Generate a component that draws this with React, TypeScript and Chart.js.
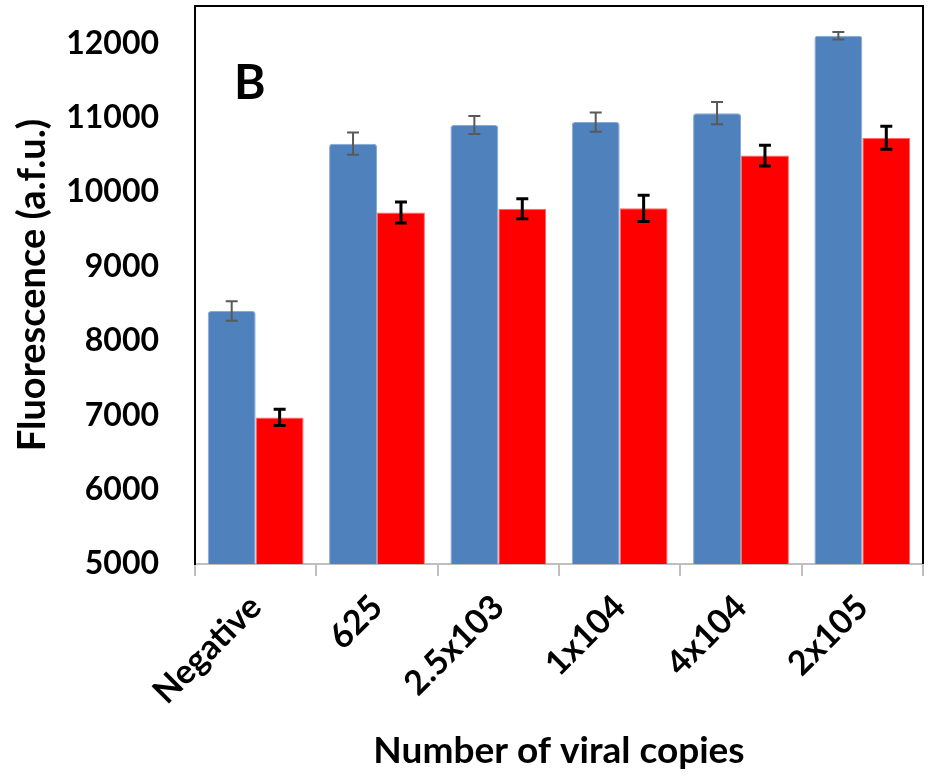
import React, { useEffect, useRef } from "react";
import { Chart, registerables } from "chart.js";

Chart.register(...registerables);

const categories = ["Negative", "625", "2.5x103", "1x104", "4x104", "2x105"];
const blueValues = [8400, 10650, 10900, 10940, 11060, 12100];
const blueErrors = [130, 150, 120, 130, 150, 50];
const redValues = [6970, 9725, 9775, 9780, 10490, 10730];
const redErrors = [110, 140, 135, 175, 140, 155];
const yTickValues = [5000, 6000, 7000, 8000, 9000, 10000, 11000, 12000];
const panelLabel = "B";
const yTitle = "Fluorescence (a.f.u.)";
const xTitle = "Number of viral copies";

const FONT = "Lato, 'Open Sans', sans-serif";

const errorBarPlugin = {
  id: "errorBars",
  afterDatasetsDraw(chart: any) {
    const ctx = chart.ctx;
    const yScale = chart.scales.y;
    chart.data.datasets.forEach((ds: any, i: number) => {
      const meta = chart.getDatasetMeta(i);
      const errs: number[] = ds.errors;
      ctx.save();
      ctx.strokeStyle = ds.errorColor;
      ctx.lineWidth = ds.errorWidth;
      meta.data.forEach((el: any, j: number) => {
        const v = ds.data[j];
        const e = errs[j];
        const x = el.x;
        const yt = yScale.getPixelForValue(v + e);
        const yb = yScale.getPixelForValue(v - e);
        const cap = 6;
        ctx.beginPath();
        ctx.moveTo(x, yt);
        ctx.lineTo(x, yb);
        ctx.moveTo(x - cap, yt);
        ctx.lineTo(x + cap, yt);
        ctx.moveTo(x - cap, yb);
        ctx.lineTo(x + cap, yb);
        ctx.stroke();
      });
      ctx.restore();
    });
  },
};

const framePlugin = {
  id: "frame",
  afterDraw(chart: any) {
    const { ctx, chartArea } = chart;
    ctx.save();
    ctx.strokeStyle = "#000";
    ctx.lineWidth = 2;
    ctx.beginPath();
    ctx.moveTo(chartArea.left, chartArea.top);
    ctx.lineTo(chartArea.right, chartArea.top);
    ctx.lineTo(chartArea.right, chartArea.bottom);
    ctx.stroke();
    ctx.fillStyle = "#000";
    ctx.font = `bold 48px ${FONT}`;
    ctx.textAlign = "left";
    ctx.textBaseline = "alphabetic";
    ctx.fillText(panelLabel, chartArea.left + 39, chartArea.top + 93);
    ctx.restore();
  },
};

export default function App() {
  const ref = useRef<HTMLCanvasElement>(null);
  useEffect(() => {
    if (!ref.current) return;
    const chart = new Chart(ref.current, {
      type: "bar",
      data: {
        labels: categories,
        datasets: [
          {
            label: "blue",
            data: blueValues,
            errors: blueErrors,
            errorColor: "#595959",
            errorWidth: 2,
            backgroundColor: "#4F81BD",
            borderColor: "#86A9D6",
            borderWidth: 1,
            borderRadius: 3,
            barPercentage: 1,
            categoryPercentage: 0.79,
          } as any,
          {
            label: "red",
            data: redValues,
            errors: redErrors,
            errorColor: "#000000",
            errorWidth: 3,
            backgroundColor: "#FF0000",
            borderColor: "#FF6B6B",
            borderWidth: 1,
            barPercentage: 1,
            categoryPercentage: 0.79,
          } as any,
        ],
      },
      options: {
        animation: false,
        responsive: true,
        maintainAspectRatio: false,
        layout: { padding: { top: 6, right: 7, left: 0, bottom: 0 } },
        plugins: {
          legend: { display: false },
          tooltip: { enabled: false },
        },
        scales: {
          x: {
            grid: {
              display: true,
              drawOnChartArea: false,
              drawTicks: true,
              tickLength: 12,
              color: "#BFBFBF",
              lineWidth: 2,
              offset: true,
            },
            border: { display: true, color: "#BFBFBF", width: 2 },
            ticks: {
              autoSkip: false,
              minRotation: 45,
              maxRotation: 45,
              padding: 11,
              color: "#000",
              font: { family: FONT, size: 34, weight: "bold" },
            },
            title: {
              display: true,
              text: xTitle,
              color: "#000",
              padding: { top: 4, bottom: 4 },
              font: { family: FONT, size: 37, weight: "bold" },
            },
            afterFit(scale: any) {
              scale.height = 213;
              scale.paddingLeft = 0;
              scale.paddingRight = 0;
              scale.paddingTop = 0;
              scale.paddingBottom = 0;
            },
          },
          y: {
            min: 5000,
            max: 12500,
            grid: { display: true, drawOnChartArea: false, drawTicks: false },
            border: { display: true, color: "#000", width: 2 },
            afterBuildTicks(scale: any) {
              scale.ticks = yTickValues.map((v) => ({ value: v }));
            },
            ticks: {
              padding: 36,
              color: "#000",
              font: { family: FONT, size: 32, weight: "bold" },
              callback: (v: any) => String(v),
            },
            title: {
              display: true,
              text: yTitle,
              color: "#000",
              padding: { top: 10, bottom: 4 },
              font: { family: FONT, size: 38, weight: "bold" },
            },
            afterFit(scale: any) {
              scale.width = 195;
              scale.paddingTop = 0;
              scale.paddingBottom = 0;
              scale.paddingLeft = 0;
              scale.paddingRight = 0;
            },
          },
        },
      },
      plugins: [errorBarPlugin, framePlugin],
    });
    return () => chart.destroy();
  }, []);
  return (
    <div style={{ position: "fixed", left: 0, top: 0, width: 930, height: 777, background: "#fff" }}>
      <canvas ref={ref} />
    </div>
  );
}
